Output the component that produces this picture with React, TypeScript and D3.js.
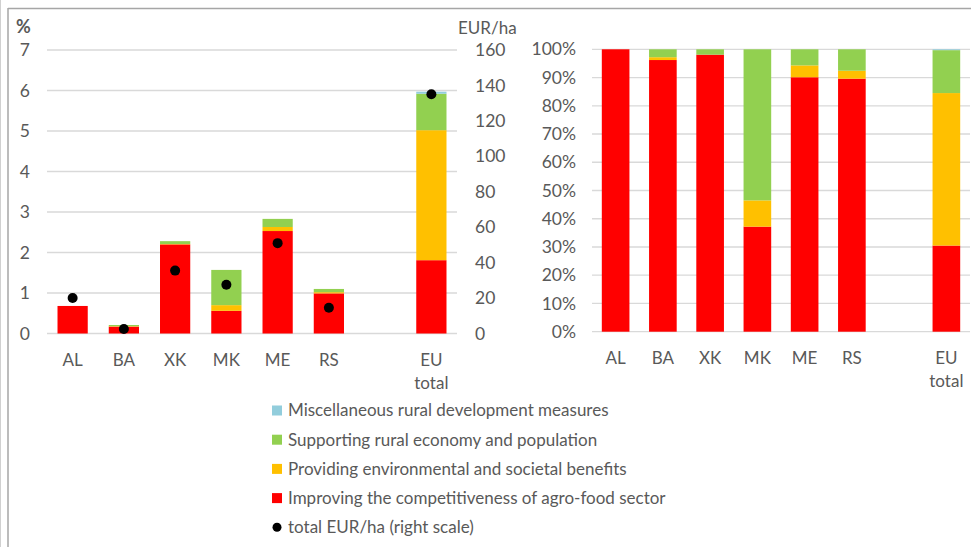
import React from "react";
import * as d3 from "d3";

const categories = ["AL", "BA", "XK", "MK", "ME", "RS", "EU total"];
const GAP = "__gap";
const slots = [...categories.slice(0, 6), GAP, categories[6]];

// Left chart: % (left scale)
const improving = [0.68, 0.17, 2.2, 0.56, 2.53, 0.99, 1.81];
const providing = [0.0, 0.01, 0.01, 0.14, 0.1, 0.03, 3.21];
const supporting = [0.0, 0.03, 0.07, 0.87, 0.2, 0.08, 0.9];
const misc = [0, 0, 0, 0, 0, 0, 0.05];
const eurPerHa = [20, 2.5, 35.5, 27.5, 51, 14.5, 135];

// Right chart: shares (%)
const improvingShare = [100, 96.2, 98.1, 37.2, 90.1, 89.6, 30.5];
const providingShare = [0, 1.0, 0, 9.3, 4.2, 2.8, 54.0];
const supportingShare = [0, 2.8, 1.9, 53.5, 5.7, 7.6, 15.2];
const miscShare = [0, 0, 0, 0, 0, 0, 0.3];

const leftTicks = [0, 1, 2, 3, 4, 5, 6, 7];
const rightTicks = [0, 20, 40, 60, 80, 100, 120, 140, 160];
const pctTicks = [0, 10, 20, 30, 40, 50, 60, 70, 80, 90, 100];

const seriesNames = [
  "Miscellaneous rural development measures",
  "Supporting rural economy and population",
  "Providing environmental and societal benefits",
  "Improving the competitiveness of agro-food sector",
];
const dotLegend = "total EUR/ha (right scale)";

const COLORS = {
  improving: "#FF0000",
  providing: "#FFC000",
  supporting: "#92D050",
  misc: "#92CDDC",
};
const TEXT = "#595959";
const GRID = "#D9D9D9";
const FONT = "Lato, 'Open Sans', sans-serif";
const FS = 17;
const TICK_FS = 17.5;

type Stack = { key: string; color: string; values: number[] };

const leftStacks: Stack[] = [
  { key: "improving", color: COLORS.improving, values: improving },
  { key: "providing", color: COLORS.providing, values: providing },
  { key: "supporting", color: COLORS.supporting, values: supporting },
  { key: "misc", color: COLORS.misc, values: misc },
];
const rightStacks: Stack[] = [
  { key: "improving", color: COLORS.improving, values: improvingShare },
  { key: "providing", color: COLORS.providing, values: providingShare },
  { key: "supporting", color: COLORS.supporting, values: supportingShare },
  { key: "misc", color: COLORS.misc, values: miscShare },
];

function stackRects(stacks: Stack[]) {
  const out: { key: string; color: string; cat: string; y0: number; y1: number }[] = [];
  categories.forEach((cat, i) => {
    let acc = 0;
    stacks.forEach((s) => {
      const v = s.values[i];
      if (v > 0) out.push({ key: s.key, color: s.color, cat, y0: acc, y1: acc + v });
      acc += v;
    });
  });
  return out;
}

function CatLabel({ x, y, cat }: { x: number; y: number; cat: string }) {
  const parts = cat.split(" ");
  return (
    <text x={x} textAnchor="middle" fill={TEXT} fontSize={FS} fontFamily={FONT}>
      {parts.map((p, i) => (
        <tspan key={i} x={x} y={y + i * 23}>
          {p}
        </tspan>
      ))}
    </text>
  );
}

export default function App() {
  const W = 971;
  const H = 547;

  // Left chart scales
  const xL = d3.scaleBand<string>().domain(slots).range([47, 457]).paddingInner(0.41).paddingOuter(0.205);
  const yL = d3.scaleLinear().domain([0, 7]).range([333.5, 50]);
  const yR = d3.scaleLinear().domain([0, 160]).range([333.5, 50]);

  // Right chart scales
  const xP = d3.scaleBand<string>().domain(slots).range([592, 970]).paddingInner(0.415).paddingOuter(0.2075);
  const yP = d3.scaleLinear().domain([0, 100]).range([331.7, 49.3]);

  const leftRects = stackRects(leftStacks);
  const rightRects = stackRects(rightStacks);

  const legendX = 272;
  const legendY0 = 410.5;
  const legendStep = 29.2;
  const legendColors = [COLORS.misc, COLORS.supporting, COLORS.providing, COLORS.improving];

  return (
    <svg
      width={W}
      height={H}
      style={{ position: "absolute", left: 0, top: 0, background: "#fff" }}
      fontFamily={FONT}
    >
      {/* frame */}
      <line x1={0.5} y1={0} x2={0.5} y2={H} stroke="#D0D0D0" strokeWidth={1} />
      <line x1={8} y1={8.5} x2={W} y2={8.5} stroke="#A6A6A6" strokeWidth={1.5} />
      <line x1={8} y1={8} x2={8} y2={H} stroke="#A6A6A6" strokeWidth={1.5} />

      {/* LEFT CHART */}
      {leftTicks.map((t) => (
        <g key={"lg" + t}>
          <line x1={xL.range()[0]} x2={xL.range()[1]} y1={yL(t)} y2={yL(t)} stroke={GRID} strokeWidth={1.3} />
          <text x={30} y={yL(t)} dy="0.35em" textAnchor="end" fill={TEXT} fontSize={TICK_FS}>
            {t}
          </text>
        </g>
      ))}
      {rightTicks.map((t) => (
        <text key={"rt" + t} x={475} y={yR(t)} dy="0.35em" textAnchor="start" fill={TEXT} fontSize={TICK_FS}>
          {t}
        </text>
      ))}
      <text x={16} y={33} fill={TEXT} fontSize={18} fontWeight="bold">
        %
      </text>
      <text x={458} y={34} fill={TEXT} fontSize={FS}>
        EUR/ha
      </text>
      {leftRects.map((r, i) => (
        <rect
          key={"lr" + i}
          x={xL(r.cat)!}
          width={xL.bandwidth()}
          y={yL(r.y1)}
          height={yL(r.y0) - yL(r.y1)}
          fill={r.color}
        />
      ))}
      {categories.map((c, i) => (
        <circle key={"dot" + c} cx={xL(c)! + xL.bandwidth() / 2} cy={yR(eurPerHa[i])} r={5} fill="#000" />
      ))}
      {categories.map((c) => (
        <CatLabel key={"lc" + c} x={xL(c)! + xL.bandwidth() / 2} y={366} cat={c} />
      ))}

      {/* RIGHT CHART */}
      {pctTicks.map((t) => (
        <g key={"pg" + t}>
          <line x1={xP.range()[0]} x2={xP.range()[1]} y1={yP(t)} y2={yP(t)} stroke={GRID} strokeWidth={1.3} />
          <text x={576} y={yP(t)} dy="0.35em" textAnchor="end" fill={TEXT} fontSize={TICK_FS}>
            {t}%
          </text>
        </g>
      ))}
      {rightRects.map((r, i) => (
        <rect
          key={"rr" + i}
          x={xP(r.cat)!}
          width={xP.bandwidth()}
          y={yP(r.y1)}
          height={yP(r.y0) - yP(r.y1)}
          fill={r.color}
        />
      ))}
      {categories.map((c) => (
        <CatLabel key={"pc" + c} x={xP(c)! + xP.bandwidth() / 2} y={364} cat={c} />
      ))}

      {/* LEGEND */}
      {seriesNames.map((name, i) => (
        <g key={"leg" + i}>
          <rect x={legendX} y={legendY0 + i * legendStep - 5} width={10} height={10} fill={legendColors[i]} />
          <text x={legendX + 16} y={legendY0 + i * legendStep} dy="0.35em" fill={TEXT} fontSize={FS}>
            {name}
          </text>
        </g>
      ))}
      <circle cx={legendX + 5} cy={legendY0 + 4 * legendStep} r={4.5} fill="#000" />
      <text x={legendX + 16} y={legendY0 + 4 * legendStep} dy="0.35em" fill={TEXT} fontSize={FS}>
        {dotLegend}
      </text>
    </svg>
  );
}
